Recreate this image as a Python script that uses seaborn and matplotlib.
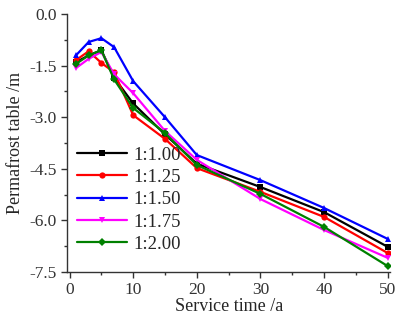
import seaborn as sns
import pandas as pd
import matplotlib.pyplot as plt
from matplotlib.ticker import MultipleLocator

years = [1, 3, 5, 7, 10, 15, 20, 30, 40, 50]
s100 = [-1.40, -1.20, -1.05, -1.85, -2.60, -3.50, -4.35, -5.03, -5.76, -6.77]
s125 = [-1.34, -1.08, -1.42, -1.69, -2.94, -3.63, -4.48, -5.17, -5.90, -6.95]
s150 = [-1.20, -0.81, -0.70, -0.96, -1.95, -3.00, -4.10, -4.83, -5.64, -6.54]
s175 = [-1.57, -1.30, -1.10, -1.75, -2.30, -3.40, -4.24, -5.38, -6.28, -7.09]
s200 = [-1.45, -1.20, -1.05, -1.90, -2.73, -3.46, -4.39, -5.23, -6.19, -7.33]
labels = ["1:1.00", "1:1.25", "1:1.50", "1:1.75", "1:2.00"]
colors = ["black", "red", "blue", "magenta", "green"]
markers = ["s", "o", "^", "v", "D"]

sns.set_style("ticks")
plt.rcParams['font.family'] = ['Liberation Serif', 'DejaVu Serif']

rows = []
for lab, vals in zip(labels, [s100, s125, s150, s175, s200]):
    for t, v in zip(years, vals):
        rows.append({"time": t, "depth": v, "ratio": lab})
df = pd.DataFrame(rows)

fig = plt.figure(figsize=(3.99, 3.14), dpi=100)
ax = fig.add_axes([0.168, 0.134, 0.81, 0.821])

sns.lineplot(
    data = df,
    x = "time",
    y = "depth",
    hue = "ratio",
    style = "ratio",
    palette = dict(zip(labels, colors)),
    markers = dict(zip(labels, markers)),
    dashes = False,
    markersize = 4.5,
    markeredgewidth = 0,
    linewidth = 1.6,
    ax = ax
)

ax.set_xlim(-0.4, 50.4)
ax.set_ylim(-7.5, 0)
ax.xaxis.set_major_locator(MultipleLocator(10))
ax.xaxis.set_minor_locator(MultipleLocator(5))
ax.yaxis.set_major_locator(MultipleLocator(1.5))
ax.yaxis.set_minor_locator(MultipleLocator(0.75))
ax.yaxis.set_major_formatter(plt.FormatStrFormatter('%.1f'))
ax.tick_params(which='major', direction='out', length=4, width=1, labelsize=12.5, colors='#333333')
ax.tick_params(which='minor', direction='out', length=2.5, width=1, colors='#333333')
for s in ['left', 'bottom']:
    ax.spines[s].set_linewidth(1)
    ax.spines[s].set_color('#333333')
sns.despine(ax=ax)

ax.set_xlabel("Service time /a", fontsize=13, labelpad=0)
ax.set_ylabel("Permafrost table /m", fontsize=13, labelpad=4)

ax.legend(loc='center left', bbox_to_anchor=(0.03, 0.28), frameon=False,
          borderpad=0, borderaxespad=0,
          fontsize=13.5, handlelength=2.7, handletextpad=0.3, labelspacing=0.28)

fig.savefig("out.png", dpi=100)
